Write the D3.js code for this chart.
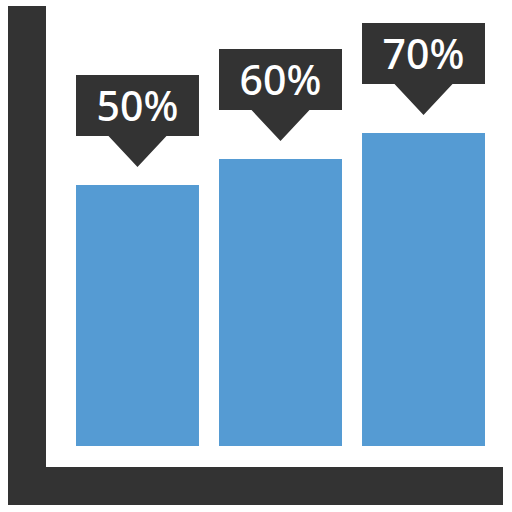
<!DOCTYPE html>
<html>
<head>
<meta charset="utf-8">
<script src="https://cdn.jsdelivr.net/npm/d3@7"></script>
<style>
  html, body { margin: 0; padding: 0; background: #fff; }
  svg { display: block; }
</style>
</head>
<body>
<svg id="chart" width="512" height="512"></svg>
<script>
// ── Data ────────────────────────────────────────────────────
const categories = ['A', 'B', 'C'];
const values = [50, 60, 70];
const labels = ['50%', '60%', '70%'];

const DARK = '#333333';
const BLUE = '#559bd3';

const svg = d3.select('#chart');

// ── Scales ──────────────────────────────────────────────────
const baseline = 446;
const x = d3.scaleBand()
  .domain(categories)
  .range([76, 485])
  .paddingInner(0.14)
  .paddingOuter(0);

const y = d3.scaleLinear()
  .domain([-50, 100])
  .range([445, 55]);

// ── Axes (thick L shape) ────────────────────────────────────
svg.append('rect')
  .attr('x', 8).attr('y', 6)
  .attr('width', 38).attr('height', 499)
  .attr('fill', DARK);

svg.append('rect')
  .attr('x', 8).attr('y', 467)
  .attr('width', 495).attr('height', 38)
  .attr('fill', DARK);

// ── Bars ────────────────────────────────────────────────────
const data = categories.map((c, i) => ({ cat: c, value: values[i], label: labels[i] }));

svg.append('g').selectAll('rect')
  .data(data)
  .join('rect')
  .attr('x', d => x(d.cat))
  .attr('y', d => y(d.value))
  .attr('width', x.bandwidth())
  .attr('height', d => baseline - y(d.value))
  .attr('fill', BLUE);

// ── Callout labels ──────────────────────────────────────────
const gap = 18, tri = 31, boxH = 61, half = 29;

const callout = svg.append('g').selectAll('g')
  .data(data)
  .join('g')
  .attr('transform', d => `translate(${x(d.cat)},${y(d.value) - gap - tri - boxH})`);

callout.append('path')
  .attr('fill', DARK)
  .attr('d', () => {
    const w = x.bandwidth(), cx = w / 2;
    return `M0,0H${w}V${boxH}H${cx + half}L${cx},${boxH + tri}L${cx - half},${boxH}H0Z`;
  });

callout.append('text')
  .attr('x', x.bandwidth() / 2)
  .attr('y', 46)
  .attr('text-anchor', 'middle')
  .attr('font-family', "'Noto Sans', sans-serif")
  .attr('font-size', '41px')
  .attr('font-weight', 500)
  .attr('fill', '#ffffff')
  .text(d => d.label);
</script>
</body>
</html>
